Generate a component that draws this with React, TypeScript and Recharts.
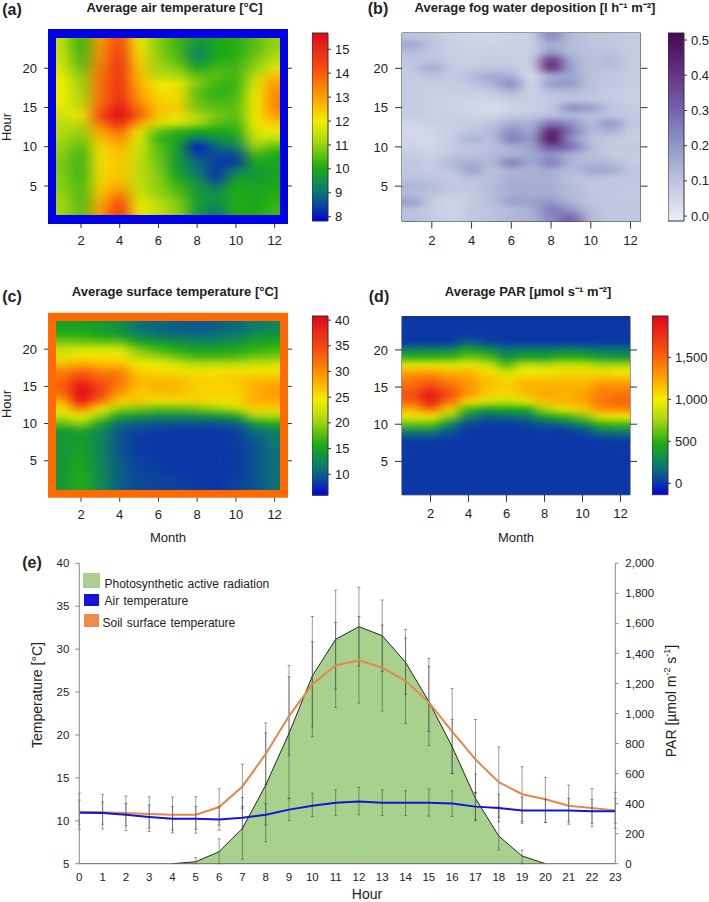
import React from "react";
import {
  Area,
  ComposedChart,
  ErrorBar,
  Line,
  ReferenceArea,
  Scatter,
  ScatterChart,
  XAxis,
  YAxis,
} from "recharts";

const FONT = '"Liberation Sans", Arial, sans-serif';

const months = [1, 2, 3, 4, 5, 6, 7, 8, 9, 10, 11, 12];
// rows run from hour 24 (top of the panel) down to hour 1
const hoursDown = [24, 23, 22, 21, 20, 19, 18, 17, 16, 15, 14, 13, 12, 11, 10, 9, 8, 7, 6, 5, 4, 3, 2, 1];
const monthTicks = [2, 4, 6, 8, 10, 12];
const hourTicks = [5, 10, 15, 20];

const airGrid = [
  [11.4, 10.3, 13.0, 14.4, 12.0, 10.9, 10.3, 9.7, 10.0, 10.1, 10.5, 11.0],
  [11.4, 10.2, 13.1, 14.5, 12.0, 10.8, 10.3, 9.5, 10.0, 10.1, 10.5, 11.0],
  [11.5, 10.3, 13.2, 14.6, 12.2, 10.9, 10.4, 9.1, 10.0, 10.1, 10.6, 11.1],
  [11.6, 10.4, 13.3, 14.7, 12.3, 11.0, 10.5, 9.4, 10.1, 10.2, 10.8, 11.4],
  [11.7, 10.6, 13.5, 14.8, 12.5, 11.1, 10.9, 9.9, 10.4, 10.3, 11.0, 11.8],
  [11.9, 10.9, 13.6, 14.8, 12.6, 11.3, 11.3, 10.6, 10.5, 10.3, 11.4, 12.6],
  [12.0, 11.0, 13.7, 14.8, 12.8, 11.9, 12.1, 10.8, 10.3, 10.2, 11.8, 13.1],
  [12.0, 11.1, 13.7, 14.8, 13.0, 12.2, 12.2, 10.5, 10.2, 10.3, 11.9, 13.3],
  [12.0, 11.2, 13.7, 14.9, 13.2, 12.3, 12.2, 10.6, 10.3, 10.4, 12.0, 13.4],
  [11.8, 11.4, 13.9, 15.3, 13.6, 12.5, 12.5, 10.7, 10.5, 10.5, 12.0, 13.4],
  [11.6, 12.0, 14.4, 15.7, 14.0, 12.5, 12.1, 11.2, 10.8, 10.5, 12.0, 13.0],
  [11.4, 11.3, 13.7, 15.0, 13.0, 11.7, 11.7, 11.2, 10.5, 10.3, 12.0, 12.5],
  [11.3, 11.0, 12.9, 13.9, 12.1, 10.6, 10.2, 10.0, 10.0, 10.1, 11.7, 11.9],
  [11.1, 10.8, 12.6, 13.3, 11.8, 10.2, 9.9, 9.0, 9.5, 9.7, 11.5, 11.4],
  [11.0, 10.5, 12.3, 12.8, 11.6, 10.5, 9.8, 8.0, 8.9, 9.2, 11.0, 10.5],
  [10.9, 10.3, 12.2, 12.6, 11.5, 10.6, 9.7, 8.4, 8.5, 8.5, 10.4, 10.0],
  [10.8, 10.3, 12.2, 12.5, 11.4, 10.7, 9.7, 8.9, 8.4, 8.3, 10.0, 9.9],
  [10.8, 10.3, 12.2, 12.5, 11.4, 10.8, 9.8, 9.0, 8.3, 9.1, 9.7, 9.9],
  [10.9, 10.3, 12.3, 12.6, 11.4, 10.9, 10.0, 9.4, 8.3, 9.8, 9.7, 9.9],
  [10.9, 10.4, 12.4, 12.9, 11.4, 10.9, 10.3, 9.6, 9.0, 10.0, 9.8, 10.0],
  [11.0, 10.4, 12.6, 13.5, 11.5, 11.0, 10.5, 9.7, 9.4, 10.1, 9.9, 10.1],
  [11.1, 10.4, 12.8, 14.2, 11.8, 11.3, 10.8, 9.8, 9.5, 10.1, 9.9, 10.2],
  [11.1, 10.5, 13.0, 14.7, 11.9, 11.4, 10.9, 9.6, 9.1, 10.1, 10.0, 10.3],
  [11.1, 10.5, 13.0, 14.8, 11.9, 11.4, 11.0, 9.7, 9.0, 10.1, 10.0, 10.3],
];

const fogGrid = [
  [0.1, 0.09, 0.06, 0.05, 0.05, 0.06, 0.07, 0.24, 0.12, 0.09, 0.09, 0.08],
  [0.17, 0.1, 0.07, 0.06, 0.06, 0.07, 0.07, 0.15, 0.12, 0.1, 0.09, 0.08],
  [0.11, 0.09, 0.07, 0.07, 0.07, 0.07, 0.06, 0.2, 0.12, 0.1, 0.1, 0.08],
  [0.09, 0.1, 0.08, 0.07, 0.08, 0.08, 0.07, 0.44, 0.16, 0.1, 0.13, 0.08],
  [0.09, 0.17, 0.08, 0.08, 0.09, 0.09, 0.05, 0.46, 0.17, 0.1, 0.11, 0.08],
  [0.08, 0.1, 0.08, 0.12, 0.17, 0.15, 0.03, 0.14, 0.17, 0.11, 0.09, 0.08],
  [0.08, 0.08, 0.08, 0.09, 0.13, 0.24, 0.04, 0.2, 0.2, 0.1, 0.09, 0.08],
  [0.08, 0.07, 0.07, 0.07, 0.08, 0.13, 0.06, 0.11, 0.12, 0.1, 0.08, 0.07],
  [0.08, 0.07, 0.06, 0.06, 0.05, 0.08, 0.08, 0.08, 0.09, 0.08, 0.08, 0.07],
  [0.08, 0.07, 0.06, 0.05, 0.03, 0.05, 0.07, 0.08, 0.24, 0.2, 0.1, 0.08],
  [0.08, 0.07, 0.07, 0.06, 0.05, 0.08, 0.09, 0.1, 0.11, 0.1, 0.09, 0.08],
  [0.05, 0.07, 0.08, 0.08, 0.09, 0.16, 0.14, 0.28, 0.22, 0.11, 0.22, 0.09],
  [0.04, 0.05, 0.07, 0.09, 0.12, 0.23, 0.15, 0.48, 0.27, 0.12, 0.15, 0.08],
  [0.05, 0.04, 0.08, 0.15, 0.1, 0.27, 0.18, 0.52, 0.2, 0.1, 0.08, 0.07],
  [0.06, 0.05, 0.08, 0.09, 0.1, 0.15, 0.17, 0.35, 0.3, 0.12, 0.08, 0.09],
  [0.08, 0.06, 0.09, 0.1, 0.12, 0.13, 0.16, 0.2, 0.13, 0.11, 0.08, 0.08],
  [0.09, 0.07, 0.13, 0.15, 0.11, 0.28, 0.15, 0.27, 0.13, 0.13, 0.12, 0.08],
  [0.09, 0.08, 0.09, 0.19, 0.1, 0.14, 0.14, 0.15, 0.11, 0.17, 0.17, 0.09],
  [0.1, 0.09, 0.08, 0.1, 0.11, 0.14, 0.15, 0.15, 0.1, 0.1, 0.09, 0.09],
  [0.14, 0.12, 0.09, 0.09, 0.12, 0.16, 0.16, 0.15, 0.12, 0.09, 0.09, 0.09],
  [0.11, 0.1, 0.08, 0.08, 0.12, 0.15, 0.15, 0.15, 0.12, 0.1, 0.09, 0.08],
  [0.2, 0.07, 0.05, 0.08, 0.11, 0.19, 0.18, 0.2, 0.13, 0.09, 0.09, 0.09],
  [0.1, 0.08, 0.05, 0.09, 0.1, 0.12, 0.14, 0.27, 0.2, 0.11, 0.09, 0.09],
  [0.11, 0.08, 0.06, 0.09, 0.1, 0.13, 0.14, 0.22, 0.32, 0.12, 0.09, 0.09],
];

const surfaceGrid = [
  [14.5, 14.5, 14, 13, 11, 10.5, 10, 10, 10, 10.5, 11.5, 12.5],
  [15, 15, 14.5, 13.5, 11, 10.5, 10, 9.5, 10, 10.5, 11.5, 12.5],
  [16, 16, 15, 14, 12, 11, 10.5, 10.5, 11, 11.5, 13, 13.5],
  [19, 18.5, 18, 18, 15, 14, 13.5, 12.5, 12.5, 13.5, 15, 15.5],
  [22, 23, 23, 23, 19, 17, 16, 14.5, 15, 15.5, 16.5, 17],
  [23, 25, 25, 25, 21, 20, 18.5, 17, 17, 17.5, 18.5, 19],
  [27, 28, 27, 27, 24, 24, 22.5, 21, 21.5, 21.5, 22, 22.5],
  [31, 33, 31, 31, 26, 25.5, 25, 25, 25, 25, 25, 25],
  [32, 36, 33, 32, 27, 27, 27, 26, 26, 26.5, 27, 27],
  [33, 40, 35, 31, 27, 28, 27.5, 26, 26, 26, 28, 29],
  [32, 41, 35, 29, 26, 27, 27, 26, 26, 26, 28, 29],
  [28, 39, 32, 26, 27, 25, 25.5, 26, 25, 25.5, 28, 28],
  [25, 31, 25, 20, 19, 18, 18, 19, 20, 22, 26, 26],
  [22, 24, 20, 15, 14, 13, 13, 13, 14, 15, 21, 21],
  [18, 20, 15, 11, 10, 9.5, 9.5, 9.5, 9.5, 10, 14, 16],
  [14, 15, 13, 9.5, 8.7, 8.3, 8, 8, 8, 8.7, 11, 12],
  [14, 14.5, 12.5, 9.5, 8.3, 8, 8, 8, 8, 8.3, 10, 11.5],
  [14, 15, 12.5, 9.5, 8.3, 8, 8, 8, 8, 8.3, 9.5, 11.5],
  [14, 15, 12.5, 9.5, 8.3, 8, 8, 8, 8, 8.3, 9.5, 11],
  [14, 15.5, 12.5, 10, 8.7, 8.3, 8, 8, 8, 8.3, 9.5, 11],
  [14, 15.5, 12.5, 10, 8.7, 8.3, 8, 8, 8, 8.3, 9.5, 11],
  [14, 16, 13, 10, 9, 8.7, 8.3, 8, 8, 8.3, 9.5, 11],
  [14, 16, 13, 10, 9, 8.7, 8.7, 8.3, 8, 8.7, 9.5, 11],
  [14, 16, 13, 10, 9, 8.7, 8.7, 8.3, 8, 8.7, 9.5, 11],
];

const parGrid = [
  [0, 0, 0, 0, 0, 0, 0, 0, 0, 0, 0, 0],
  [0, 0, 0, 0, 0, 0, 0, 0, 0, 0, 0, 0],
  [0, 0, 0, 0, 0, 0, 0, 0, 0, 0, 0, 0],
  [0, 0, 0, 150, 50, 0, 0, 0, 0, 0, 0, 0],
  [250, 280, 280, 420, 330, 200, 250, 230, 250, 250, 200, 200],
  [500, 500, 520, 640, 570, 330, 430, 400, 500, 480, 400, 350],
  [950, 950, 950, 950, 880, 600, 850, 800, 850, 850, 750, 750],
  [1250, 1250, 1200, 1180, 1050, 900, 1000, 1000, 1050, 1050, 1050, 1000],
  [1400, 1500, 1350, 1280, 1150, 1080, 1150, 1150, 1150, 1150, 1200, 1200],
  [1500, 1650, 1500, 1300, 1150, 1100, 1200, 1200, 1200, 1200, 1350, 1350],
  [1600, 1900, 1600, 1300, 1100, 1050, 1150, 1250, 1200, 1250, 1400, 1450],
  [1500, 1850, 1450, 1050, 900, 850, 950, 1150, 1200, 1250, 1450, 1500],
  [1200, 1450, 1100, 550, 400, 450, 450, 750, 950, 1100, 1300, 1350],
  [950, 1000, 700, 250, 120, 150, 200, 400, 500, 650, 950, 1000],
  [620, 600, 280, 50, 20, 20, 30, 100, 150, 280, 500, 550],
  [220, 220, 100, 0, 0, 0, 0, 0, 0, 50, 200, 220],
  [30, 30, 0, 0, 0, 0, 0, 0, 0, 0, 20, 30],
  [0, 0, 0, 0, 0, 0, 0, 0, 0, 0, 0, 0],
  [0, 0, 0, 0, 0, 0, 0, 0, 0, 0, 0, 0],
  [0, 0, 0, 0, 0, 0, 0, 0, 0, 0, 0, 0],
  [0, 0, 0, 0, 0, 0, 0, 0, 0, 0, 0, 0],
  [0, 0, 0, 0, 0, 0, 0, 0, 0, 0, 0, 0],
  [0, 0, 0, 0, 0, 0, 0, 0, 0, 0, 0, 0],
  [0, 0, 0, 0, 0, 0, 0, 0, 0, 0, 0, 0],
];

// daily courses, panel (e)
const hours = [0, 1, 2, 3, 4, 5, 6, 7, 8, 9, 10, 11, 12, 13, 14, 15, 16, 17, 18, 19, 20, 21, 22, 23];
const airMean = [10.95, 10.9, 10.7, 10.45, 10.25, 10.25, 10.15, 10.35, 10.7, 11.3, 11.75, 12.1, 12.25, 12.1, 12.1, 12.1, 12.0, 11.65, 11.5, 11.2, 11.2, 11.2, 11.1, 11.1];
const airHigh = [12.4, 12.2, 12.0, 11.85, 11.65, 11.65, 11.65, 11.65, 12.0, 12.6, 13.2, 13.6, 13.9, 13.6, 13.5, 13.7, 13.5, 13.3, 13.1, 12.75, 12.5, 12.6, 12.5, 12.6];
const airLow = [9.5, 9.6, 9.4, 9.15, 8.9, 9.0, 8.9, 9.05, 9.5, 10.0, 10.5, 10.6, 10.7, 10.6, 10.6, 10.55, 10.5, 10.0, 9.9, 9.7, 9.8, 9.9, 9.7, 9.7];
const soilMean = [11.05, 11.0, 10.9, 10.8, 10.7, 10.7, 11.6, 14.0, 17.8, 22.2, 25.9, 28.1, 28.7, 27.85, 26.3, 23.8, 20.4, 17.15, 14.5, 13.1, 12.5, 11.75, 11.5, 11.2];
const soilHigh = [13.2, 13.08, 12.9, 12.8, 12.75, 12.8, 13.75, 16.6, 21.4, 28.1, 33.8, 33.1, 33.8, 32.8, 31.3, 28, 25.4, 21.8, 18.6, 16.3, 15.05, 14.15, 13.75, 13.3];
const soilLow = [9.0, 9.04, 8.85, 8.75, 8.6, 8.55, 9.5, 11.45, 14.2, 17.65, 19.8, 23.2, 23.7, 22.8, 21.35, 20.4, 15.5, 13.2, 10.4, 9.9, 9.8, 9.6, 9.3, 9.1];
const parMean = [null, null, null, null, 0, 13, 80, 235, 524, 868, 1250, 1494, 1578, 1518, 1341, 1079, 779, 435, 184, 51, 0, null, null, null];
const parHigh = [null, null, null, null, null, 40, 166, 441, 870, 1245, 1478, 1822, 1840, 1756, 1560, 1367, 961, 597, 380, 91, null, null, null, null];
const parLow = [null, null, null, null, null, 0, 0, 29, 146, 435, 912, 1163, 1316, 1279, 1128, 786, 601, 295, 91, 0, null, null, null, null];

const courseData = hours.map((hour, i) => ({
  hour,
  air: airMean[i],
  airErr: [airMean[i] - airLow[i], airHigh[i] - airMean[i]],
  soil: soilMean[i],
  soilErr: [soilMean[i] - soilLow[i], soilHigh[i] - soilMean[i]],
  par: parMean[i],
  parErr:
    parHigh[i] == null ? null : [parMean[i]! - parLow[i]!, parHigh[i]! - parMean[i]!],
}));

type Stop = [number, string];

const rainbowRamp: Stop[] = [
  [0, "#0000e0"],
  [0.06, "#0a35a8"],
  [0.16, "#0c7a70"],
  [0.28, "#1aaa14"],
  [0.42, "#a8d810"],
  [0.53, "#f4ee00"],
  [0.66, "#ff9e00"],
  [0.82, "#f54a10"],
  [1, "#e00818"],
];

const purpleRamp: Stop[] = [
  [0, "#e8eff4"],
  [0.2, "#c0c6e0"],
  [0.4, "#8f99c8"],
  [0.6, "#7460ac"],
  [0.8, "#63307f"],
  [1, "#4a0555"],
];

function hexToRgb(hex: string) {
  return [1, 3, 5].map((i) => parseInt(hex.slice(i, i + 2), 16));
}

function rampColor(ramp: Stop[], t: number) {
  const f = Math.max(0, Math.min(1, t));
  let i = 0;
  while (i < ramp.length - 2 && f > ramp[i + 1][0]) i++;
  const [t0, c0] = ramp[i];
  const [t1, c1] = ramp[i + 1];
  const k = (f - t0) / (t1 - t0);
  const a = hexToRgb(c0);
  const b = hexToRgb(c1);
  return `rgb(${a.map((v, n) => Math.round(v + (b[n] - v) * k)).join(",")})`;
}

const tickStyle = { fontSize: 13, fill: "#222", fontFamily: FONT };
const blank = () => "";

interface HeatProps {
  id: string;
  grid: number[][];
  ramp: Stop[];
  range: [number, number];
  box: { left: number; right: number; top: number; bottom: number };
  clip: { left: number; right: number; top: number; bottom: number };
  xDomain: [number, number];
  yDomain: [number, number];
  frame?: string;
  tickLen: number;
  labelGap: number;
  blur: string;
}

function HeatPanel(p: HeatProps) {
  const cells = hoursDown.flatMap((hour, r) =>
    months.map((month, c) => ({ month, hour, value: p.grid[r][c] }))
  );
  const w = 709;
  const h = p.box.bottom + 40;
  const plotW = p.box.right - p.box.left;
  const plotH = p.box.bottom - p.box.top;
  const cellW = plotW / (p.xDomain[1] - p.xDomain[0]);
  const cellH = plotH / (p.yDomain[1] - p.yDomain[0]);
  const axisColor = p.frame ? "none" : "#333";

  const renderCell = (s: any) => {
    const { cx, cy, payload } = s;
    if (cx == null || cy == null) return <g />;
    const pad = 40;
    const x0 = cx - cellW / 2 - (payload.month === 1 ? pad : 0);
    const x1 = cx + cellW / 2 + (payload.month === 12 ? pad : 0.5);
    const y0 = cy - cellH / 2 - (payload.hour === 24 ? pad : 0);
    const y1 = cy + cellH / 2 + (payload.hour === 1 ? pad : 0.5);
    const t = (payload.value - p.range[0]) / (p.range[1] - p.range[0]);
    return <rect x={x0} y={y0} width={x1 - x0} height={y1 - y0} fill={rampColor(p.ramp, t)} />;
  };

  return (
    <div className={`heat-${p.id}`} style={{ position: "absolute", left: 0, top: 0 }}>
      <style>{`.heat-${p.id} .recharts-scatter{filter:url(#blur-${p.id});clip-path:url(#clip-${p.id})}`}</style>
      <ScatterChart
        width={w}
        height={h}
        margin={{ left: p.box.left - 40, right: w - p.box.right - 30, top: p.box.top - 20, bottom: 10 }}
      >
        <defs>
          <filter
            id={`blur-${p.id}`}
            filterUnits="userSpaceOnUse"
            x={0}
            y={0}
            width={w}
            height={h}
            colorInterpolationFilters="sRGB"
          >
            <feGaussianBlur stdDeviation={p.blur} />
          </filter>
          <clipPath id={`clip-${p.id}`}>
            <rect
              x={p.clip.left}
              y={p.clip.top}
              width={p.clip.right - p.clip.left}
              height={p.clip.bottom - p.clip.top}
            />
          </clipPath>
        </defs>
        {p.frame && (
          <ReferenceArea
            x1={p.xDomain[0]}
            x2={p.xDomain[1]}
            y1={p.yDomain[0]}
            y2={p.yDomain[1]}
            fill={p.frame}
            fillOpacity={1}
            stroke="none"
          />
        )}
        <XAxis
          type="number"
          dataKey="month"
          domain={p.xDomain}
          ticks={monthTicks}
          interval={0}
          height={30}
          tick={tickStyle}
          tickSize={p.tickLen}
          tickMargin={p.labelGap}
          axisLine={{ stroke: axisColor }}
          tickLine={{ stroke: "#333" }}
          allowDataOverflow
        />
        <XAxis
          xAxisId="top"
          orientation="top"
          type="number"
          domain={p.xDomain}
          ticks={monthTicks}
          interval={0}
          height={20}
          tickFormatter={blank}
          tickSize={p.tickLen}
          axisLine={{ stroke: axisColor }}
          tickLine={{ stroke: "#333" }}
          allowDataOverflow
        />
        <YAxis
          type="number"
          dataKey="hour"
          domain={p.yDomain}
          ticks={hourTicks}
          interval={0}
          width={40}
          tick={tickStyle}
          tickSize={p.tickLen}
          tickMargin={7}
          axisLine={{ stroke: axisColor }}
          tickLine={{ stroke: "#333" }}
          allowDataOverflow
        />
        <YAxis
          yAxisId="right"
          orientation="right"
          type="number"
          domain={p.yDomain}
          ticks={hourTicks}
          interval={0}
          width={30}
          tickFormatter={blank}
          tickSize={p.tickLen}
          axisLine={{ stroke: axisColor }}
          tickLine={{ stroke: "#333" }}
          allowDataOverflow
        />
        <Scatter data={cells} shape={renderCell} isAnimationActive={false} />
      </ScatterChart>
    </div>
  );
}

interface BarProps {
  id: string;
  ramp: Stop[];
  range: [number, number];
  left: number;
  top: number;
  bottom: number;
  ticks: number[];
  format?: (v: number) => string;
}

function ColorBar(b: BarProps) {
  const barW = 16;
  return (
    <div style={{ position: "absolute", left: b.left, top: b.top - 10 }}>
      <ComposedChart
        width={barW + 50}
        height={b.bottom - b.top + 20}
        data={[{ x: 0 }]}
        margin={{ left: 0, right: 0, top: 10, bottom: 10 }}
      >
        <defs>
          <linearGradient id={`ramp-${b.id}`} x1="0" y1="1" x2="0" y2="0">
            {b.ramp.map(([t, c]) => (
              <stop key={t} offset={t} stopColor={c} />
            ))}
          </linearGradient>
        </defs>
        <XAxis type="number" dataKey="x" domain={[0, 1]} hide />
        <YAxis
          orientation="right"
          type="number"
          domain={b.range}
          ticks={b.ticks}
          interval={0}
          width={50}
          tick={tickStyle}
          tickSize={3}
          tickMargin={4}
          tickFormatter={b.format}
          axisLine={false}
          tickLine={{ stroke: "#333" }}
          allowDataOverflow
        />
        <ReferenceArea
          x1={0}
          x2={1}
          y1={b.range[0]}
          y2={b.range[1]}
          fill={`url(#ramp-${b.id})`}
          fillOpacity={1}
          stroke="#333"
        />
      </ComposedChart>
    </div>
  );
}

function Label({
  x,
  y,
  size,
  bold,
  rotate,
  children,
}: {
  x: number;
  y: number;
  size: number;
  bold?: boolean;
  rotate?: boolean;
  children: React.ReactNode;
}) {
  return (
    <div
      style={{
        position: "absolute",
        left: x,
        top: y,
        transform: `translate(-50%, -50%)${rotate ? " rotate(-90deg)" : ""}`,
        fontSize: size,
        fontWeight: bold ? 700 : 400,
        color: "#222",
        whiteSpace: "nowrap",
        lineHeight: 1,
      }}
    >
      {children}
    </div>
  );
}

function LegendItem({ x, y, w, h, color, tx, ty, text }: any) {
  return (
    <>
      <div style={{ position: "absolute", left: x, top: y, width: w, height: h, background: color }} />
      <div
        style={{
          position: "absolute",
          left: tx,
          top: ty,
          transform: "translateY(-50%)",
          fontSize: 12,
          color: "#222",
          whiteSpace: "nowrap",
          lineHeight: 1,
          wordSpacing: 1,
        }}
      >
        {text}
      </div>
    </>
  );
}

const courseTick = { fontSize: 11.5, fill: "#222", fontFamily: FONT };
const errStroke = "rgba(60,60,60,0.5)";

function CourseChart() {
  return (
    <div style={{ position: "absolute", left: 0, top: 550 }}>
      <ComposedChart
        width={709}
        height={352}
        data={courseData}
        margin={{ left: 39.3, right: 43.7, top: 13.3, bottom: 0.3 }}
      >
        <XAxis
          type="number"
          dataKey="hour"
          domain={[0, 23]}
          ticks={hours}
          interval={0}
          height={38}
          tick={courseTick}
          tickSize={0}
          tickMargin={9}
          tickLine={false}
          axisLine={{ stroke: "#666" }}
        />
        <YAxis
          yAxisId="temp"
          type="number"
          domain={[5, 40]}
          ticks={[5, 10, 15, 20, 25, 30, 35, 40]}
          interval={0}
          width={40}
          tick={courseTick}
          tickSize={4}
          tickMargin={6}
          axisLine={{ stroke: "#888" }}
          tickLine={{ stroke: "#888" }}
        />
        <YAxis
          yAxisId="par"
          orientation="right"
          type="number"
          domain={[0, 2000]}
          ticks={[0, 200, 400, 600, 800, 1000, 1200, 1400, 1600, 1800, 2000]}
          interval={0}
          width={50}
          tick={courseTick}
          tickSize={3}
          tickMargin={7}
          tickFormatter={(v: number) => v.toLocaleString("en-US")}
          axisLine={{ stroke: "#888" }}
          tickLine={{ stroke: "#888" }}
        />
        <Area
          yAxisId="par"
          dataKey="par"
          type="linear"
          stroke="#1e2a1a"
          strokeWidth={1}
          fill="#a9d18e"
          fillOpacity={1}
          isAnimationActive={false}
          connectNulls={false}
        />
        <Line yAxisId="par" dataKey="par" stroke="none" dot={false} isAnimationActive={false}>
          <ErrorBar dataKey="parErr" width={1.5} stroke={errStroke} strokeWidth={1} direction="y" />
        </Line>
        <Line yAxisId="temp" dataKey="soil" type="linear" stroke="#e8864a" strokeWidth={2} dot={false} isAnimationActive={false}>
          <ErrorBar dataKey="soilErr" width={1.5} stroke={errStroke} strokeWidth={1} direction="y" />
        </Line>
        <Line yAxisId="temp" dataKey="air" type="linear" stroke="#1414d8" strokeWidth={2} dot={false} isAnimationActive={false}>
          <ErrorBar dataKey="airErr" width={1.5} stroke={errStroke} strokeWidth={1} direction="y" />
        </Line>
      </ComposedChart>
    </div>
  );
}

const thousands = (v: number) => v.toLocaleString("en-US");
const oneDecimal = (v: number) => v.toFixed(1);

export default function App() {
  return (
    <div style={{ position: "absolute", left: 0, top: 0, width: 709, height: 902, background: "#fff", fontFamily: FONT, overflow: "hidden" }}>
      <HeatPanel
        id="a"
        grid={airGrid}
        ramp={rainbowRamp}
        range={[7.82, 15.68]}
        box={{ left: 48, right: 288, top: 29, bottom: 224 }}
        clip={{ left: 56, right: 280, top: 38, bottom: 215 }}
        xDomain={[0.296, 12.69]}
        yDomain={[0.15, 25]}
        frame="#0000e8"
        tickLen={4}
        labelGap={8}
        blur="7.5 3"
      />
      <ColorBar id="a" ramp={rainbowRamp} range={[7.82, 15.68]} left={312} top={33} bottom={221} ticks={[8, 9, 10, 11, 12, 13, 14, 15]} />

      <HeatPanel
        id="b"
        grid={fogGrid}
        ramp={purpleRamp}
        range={[-0.014, 0.52]}
        box={{ left: 402, right: 640.5, top: 33, bottom: 221.5 }}
        clip={{ left: 402, right: 640.5, top: 33, bottom: 221.5 }}
        xDomain={[0.5, 12.5]}
        yDomain={[0.5, 24.5]}
        tickLen={7}
        labelGap={7}
        blur="7.5 3"
      />
      <ColorBar id="b" ramp={purpleRamp} range={[-0.014, 0.52]} left={668} top={33} bottom={221} ticks={[0, 0.1, 0.2, 0.3, 0.4, 0.5]} format={oneDecimal} />

      <HeatPanel
        id="c"
        grid={surfaceGrid}
        ramp={rainbowRamp}
        range={[5.9, 40.8]}
        box={{ left: 48, right: 288, top: 312.7, bottom: 497.7 }}
        clip={{ left: 56, right: 280, top: 321, bottom: 490 }}
        xDomain={[0.296, 12.69]}
        yDomain={[0.04, 24.9]}
        frame="#ff6a00"
        tickLen={4}
        labelGap={8}
        blur="7 3"
      />
      <ColorBar id="c" ramp={rainbowRamp} range={[5.9, 40.8]} left={312} top={315.7} bottom={495} ticks={[10, 15, 20, 25, 30, 35, 40]} />

      <HeatPanel
        id="d"
        grid={parGrid}
        ramp={rainbowRamp}
        range={[-135, 1992]}
        box={{ left: 402, right: 630, top: 316.5, bottom: 494.8 }}
        clip={{ left: 402, right: 630, top: 316.5, bottom: 494.8 }}
        xDomain={[0.5, 12.5]}
        yDomain={[0.5, 24.5]}
        tickLen={7}
        labelGap={7}
        blur="6 3"
      />
      <ColorBar id="d" ramp={rainbowRamp} range={[-135, 1992]} left={652} top={316} bottom={494.7} ticks={[0, 500, 1000, 1500]} format={thousands} />

      <CourseChart />

      <Label x={174.5} y={7} size={13} bold>Average air temperature [°C]</Label>
      <Label x={535} y={7} size={13} bold>Average fog water deposition [l h⁻¹ m⁻²]</Label>
      <Label x={175} y={291} size={13} bold>Average surface temperature [°C]</Label>
      <Label x={528} y={291} size={13} bold>Average PAR [µmol s⁻¹ m⁻²]</Label>

      <Label x={12} y={10} size={16} bold>(a)</Label>
      <Label x={378} y={9} size={16} bold>(b)</Label>
      <Label x={12} y={297} size={16} bold>(c)</Label>
      <Label x={379} y={297} size={16} bold>(d)</Label>
      <Label x={32} y={563} size={16} bold>(e)</Label>

      <Label x={6} y={127} size={13} rotate>Hour</Label>
      <Label x={6} y={404} size={13} rotate>Hour</Label>
      <Label x={168} y={537} size={13}>Month</Label>
      <Label x={516} y={537} size={13}>Month</Label>

      <Label x={37} y={695} size={14} rotate>Temperature [°C]</Label>
      <Label x={367} y={894} size={14}>Hour</Label>
      <Label x={671} y={701} size={14} rotate>
        PAR [µmol m<sup style={{ fontSize: 9, lineHeight: 0 }}>-2</sup> s<sup style={{ fontSize: 9, lineHeight: 0 }}>-1</sup>]
      </Label>

      <LegendItem x={82.7} y={572.7} w={17.3} h={15} color="#a9d18e" tx={104.5} ty={583.5} text="Photosynthetic active radiation" />
      <LegendItem x={84} y={593.7} w={14.5} h={12.8} color="#1414d8" tx={104.5} ty={601} text="Air temperature" />
      <LegendItem x={84} y={614} w={14.5} h={12.5} color="#ee8a4d" tx={102.5} ty={622.5} text="Soil surface temperature" />
    </div>
  );
}
